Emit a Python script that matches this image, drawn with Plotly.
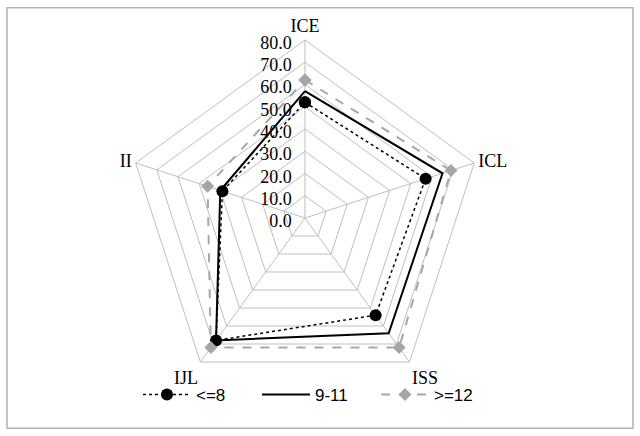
import plotly.graph_objects as go

categorias = ["ICE", "ICL", "ISS", "IJL", "II"]
grupos = ["<=8", "9-11", ">=12"]
valores_menor8 = [52, 57, 54, 68, 39]
valores_9_11 = [57, 65, 64, 68, 40]
valores_mayor12 = [62, 69, 72, 72, 46]
ticks_radio = [0, 10, 20, 30, 40, 50, 60, 70, 80]

def cerrar(lista):
    # repetir el primer punto para cerrar el poligono
    return list(lista) + [lista[0]]

fig = go.Figure()

fig.add_trace(go.Scatterpolar(
    r=cerrar(valores_menor8), theta=cerrar(categorias), name=grupos[0],
    mode="lines+markers",
    line=dict(color="black", width=1.5, dash="dot"),
    marker=dict(symbol="circle", size=12, color="black"),
))
fig.add_trace(go.Scatterpolar(
    r=cerrar(valores_9_11), theta=cerrar(categorias), name=grupos[1],
    mode="lines",
    line=dict(color="black", width=2),
))
fig.add_trace(go.Scatterpolar(
    r=cerrar(valores_mayor12), theta=cerrar(categorias), name=grupos[2],
    mode="lines+markers",
    line=dict(color="#a6a6a6", width=2, dash="dash"),
    marker=dict(symbol="diamond", size=10, color="#a6a6a6"),
))

fig.update_layout(
    width=640, height=436,
    margin=dict(l=0, r=0, t=0, b=0),
    paper_bgcolor="white",
    font=dict(family="Liberation Serif", size=18, color="black"),
    polar=dict(
        domain=dict(x=[0.198, 0.755], y=[0.0917, 0.9083]),
        gridshape="linear",
        bgcolor="white",
        angularaxis=dict(
            direction="clockwise", rotation=90,
            gridcolor="#bfbfbf", linecolor="#bfbfbf", linewidth=1,
            ticks="", tickfont=dict(size=18, family="Liberation Serif"),
        ),
        radialaxis=dict(
            range=[0, 80], tickvals=ticks_radio, tickformat=".1f",
            angle=90, side="counterclockwise",
            gridcolor="#bfbfbf", showline=False, ticks="",
            tickfont=dict(size=18, family="Liberation Serif"),
        ),
    ),
    showlegend=True,
    legend=dict(
        orientation="h", x=0.2156, xanchor="left", y=0.094, yanchor="middle",
        font=dict(family="Liberation Sans", size=17),
        itemwidth=48, entrywidth=56, entrywidthmode="pixels",
        bgcolor="rgba(0,0,0,0)",
    ),
    shapes=[dict(
        type="rect", xref="paper", yref="paper",
        x0=0.011, x1=0.989, y0=0.018, y1=0.982,
        line=dict(color="#b0b0b0", width=1.5),
    )],
)

# quitar el margen del body para que la figura quede en (0, 0)
fig.write_html("out.html", config={"displayModeBar": False},
               post_script="document.body.style.margin='0';")
